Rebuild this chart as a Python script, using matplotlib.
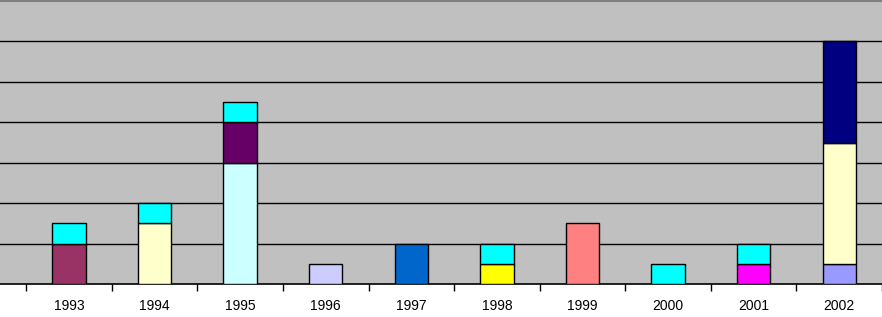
import matplotlib
matplotlib.use("Agg")
import matplotlib.pyplot as plt
import numpy as np

years = ['1993', '1994', '1995', '1996', '1997', '1998', '1999', '2000', '2001', '2002']

# stacked series, bottom to top
periwinkle   = [0, 0, 0, 0, 0, 0, 0, 0, 0, 1]
maroon       = [2, 0, 0, 0, 0, 0, 0, 0, 0, 0]
light_yellow = [0, 3, 0, 0, 0, 0, 0, 0, 0, 6]
light_cyan   = [0, 0, 6, 0, 0, 0, 0, 0, 0, 0]
purple       = [0, 0, 2, 0, 0, 0, 0, 0, 0, 0]
lavender     = [0, 0, 0, 1, 0, 0, 0, 0, 0, 0]
blue         = [0, 0, 0, 0, 2, 0, 0, 0, 0, 0]
yellow       = [0, 0, 0, 0, 0, 1, 0, 0, 0, 0]
salmon       = [0, 0, 0, 0, 0, 0, 3, 0, 0, 0]
magenta      = [0, 0, 0, 0, 0, 0, 0, 0, 1, 0]
navy         = [0, 0, 0, 0, 0, 0, 0, 0, 0, 5]
cyan         = [1, 1, 1, 0, 0, 1, 0, 1, 1, 0]

series = [
    (periwinkle, '#9999FF'),
    (maroon, '#993366'),
    (light_yellow, '#FFFFCC'),
    (light_cyan, '#CCFFFF'),
    (purple, '#660066'),
    (lavender, '#CCCCFF'),
    (blue, '#0066CC'),
    (yellow, '#FFFF00'),
    (salmon, '#FF8080'),
    (magenta, '#FF00FF'),
    (navy, '#000080'),
    (cyan, '#00FFFF'),
]

fig = plt.figure(figsize=(8.82, 3.17), dpi=100)
fig.patch.set_facecolor('white')
H = 317.0
ax = fig.add_axes([0, (317 - 284) / H, 1, (284 - 1.0) / H])
ax.set_facecolor('#C0C0C0')

x = np.arange(len(years))
bottom = np.zeros(len(years))
for vals, col in series:
    v = np.array(vals, dtype=float)
    mask = v > 0
    ax.bar(x[mask], v[mask], width=0.39, bottom=bottom[mask], color=col,
           edgecolor='black', linewidth=1.0, zorder=3)
    bottom += v

ax.set_xlim(-0.806, 9.42)
ax.set_ylim(0, 14)
ax.set_yticks(np.arange(2, 14, 2))
ax.yaxis.grid(True, color='black', linewidth=1.0)
ax.set_axisbelow(True)
ax.tick_params(axis='y', left=False, labelleft=False)

ax.set_xticks(x)
ax.set_xticklabels(years, fontfamily='Liberation Sans', fontsize=10)
ax.tick_params(axis='x', which='major', length=0, pad=10.5)
ax.set_xticks(np.arange(-0.5, 10, 1), minor=True)
ax.tick_params(axis='x', which='minor', length=5, width=1, color='black')

for s in ['left', 'right']:
    ax.spines[s].set_visible(False)
ax.spines['top'].set_color('#808080')
ax.spines['top'].set_linewidth(1.5)
ax.spines['bottom'].set_color('black')
ax.spines['bottom'].set_linewidth(1.2)

fig.savefig('out.png', dpi=100, facecolor='white')
